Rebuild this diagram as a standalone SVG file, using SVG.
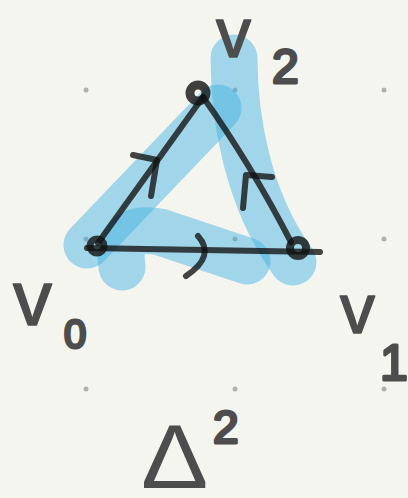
<svg xmlns="http://www.w3.org/2000/svg" width="408" height="498" viewBox="0 0 408 498">
<style>
.bg{fill:#f5f5f0}
.dot{fill:#b0b0ad}
.hl{fill:none;stroke:rgb(60,175,225);stroke-opacity:0.45;stroke-width:47;stroke-linecap:round;stroke-linejoin:round}
.ink{fill:none;stroke:#111;stroke-opacity:0.78;stroke-width:6;stroke-linecap:round;stroke-linejoin:round}
.vx{fill:none;stroke:#111;stroke-opacity:0.8}
.lbl{font-family:"Liberation Sans",Arial,sans-serif;fill:#4d4d4d;stroke:#4d4d4d;stroke-width:1.5;stroke-linejoin:round}
.num{stroke-width:3}
</style>
<rect class="bg" x="0" y="0" width="408" height="498"/>
<g id="grid">
<circle class="dot" cx="86" cy="90" r="2.5"/><circle class="dot" cx="235" cy="90" r="2.5"/><circle class="dot" cx="384" cy="90" r="2.5"/>
<circle class="dot" cx="86" cy="239" r="2.5"/><circle class="dot" cx="235" cy="239" r="2.5"/><circle class="dot" cx="384" cy="239" r="2.5"/>
<circle class="dot" cx="86" cy="389" r="2.5"/><circle class="dot" cx="235" cy="389" r="2.5"/><circle class="dot" cx="384" cy="389" r="2.5"/>
</g>
<g id="highlights">
<path class="hl" d="M87,245 L218,108"/>
<path class="hl" d="M122,267 C118,240 128,226 160,232 L247,261"/>
<path class="hl" d="M234,58 C234,120 248,200 293,262"/>
</g>
<g id="connectors">
<path class="ink" d="M98,243 L203,97"/>
<path class="ink" d="M203,97 Q250,163 291,242"/>
<path class="ink" d="M87,248 L320,252"/>
<path class="ink" d="M133,155 L157,160 L151,196"/>
<path class="ink" d="M272,177 L246,175 L243,208"/>
<path class="ink" d="M198,236 Q216,256 186,276"/>
</g>
<g id="v2"><circle class="vx" cx="198" cy="93" r="8" stroke-width="9"/>
<text class="lbl" x="216" y="57" font-size="70">v</text><text class="lbl num" x="272" y="83" font-size="48">2</text></g>
<g id="v0"><circle class="vx" cx="97" cy="246" r="7" stroke-width="7"/>
<text class="lbl" x="13" y="325" font-size="78">v</text><text class="lbl num" x="64" y="348" font-size="40">0</text></g>
<g id="v1"><circle class="vx" cx="298" cy="248" r="8" stroke-width="8"/>
<text class="lbl" x="340" y="333" font-size="70">v</text><text class="lbl num" x="394" y="380" font-size="50" text-anchor="middle">1</text></g>
<g id="label">
<text x="0" y="0" font-size="90" font-family="Liberation Sans, Arial, sans-serif" fill="#4d4d4d" transform="translate(141,488) scale(1.12,1)">Δ</text>
<text class="lbl num" x="213" y="443" font-size="46">2</text>
</g>
</svg>
